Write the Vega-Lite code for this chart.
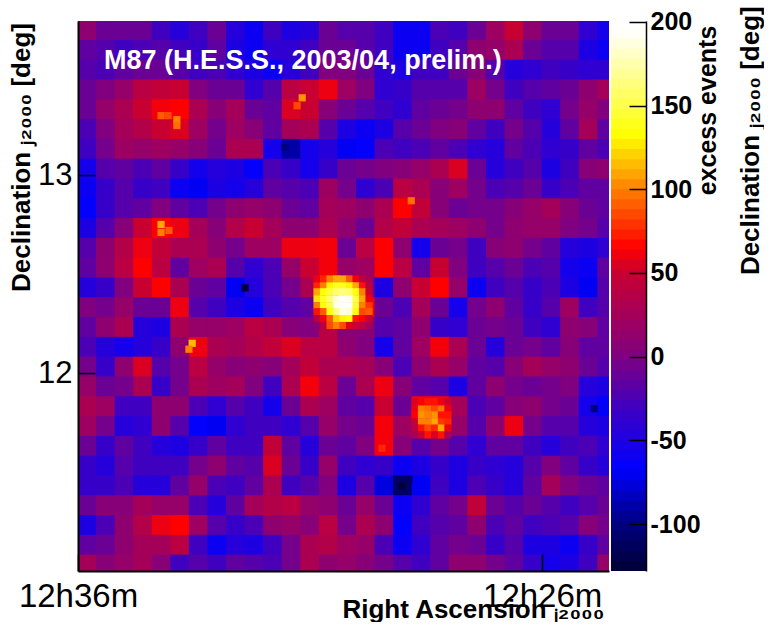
{"$schema":"https://vega.github.io/schema/vega-lite/v6.json","padding":{"left":7,"top":6,"right":0,"bottom":0},"background":"white","spacing":2,"config":{"view":{"stroke":null},"font":"Liberation Sans","concat":{"spacing":2}},"datasets":{"coarse":[
{"r":755.8,"d":13.73,"v":10},{"r":755.4,"d":13.73,"v":-10},{"r":755,"d":13.73,"v":-10},{"r":754.6,"d":13.73,"v":-10},{"r":754.2,"d":13.73,"v":-30},{"r":753.8,"d":13.73,"v":-45},{"r":753.4,"d":13.73,"v":-30},{"r":753,"d":13.73,"v":-10},{"r":752.6,"d":13.73,"v":-45},{"r":752.2,"d":13.73,"v":-60},{"r":751.8,"d":13.73,"v":-30},{"r":751.4,"d":13.73,"v":-50},{"r":751,"d":13.73,"v":-45},{"r":750.6,"d":13.73,"v":-10},{"r":750.2,"d":13.73,"v":-20},{"r":749.8,"d":13.73,"v":-20},{"r":749.4,"d":13.73,"v":-30},{"r":749,"d":13.73,"v":-60},{"r":748.6,"d":13.73,"v":-60},{"r":748.2,"d":13.73,"v":-25},{"r":747.8,"d":13.73,"v":-30},{"r":747.4,"d":13.73,"v":-10},{"r":747,"d":13.73,"v":20},{"r":746.6,"d":13.73,"v":50},{"r":746.2,"d":13.73,"v":10},{"r":745.8,"d":13.73,"v":-10},{"r":745.4,"d":13.73,"v":-10},{"r":745,"d":13.73,"v":-40},{"r":744.6,"d":13.73,"v":-55},
{"r":755.8,"d":13.63,"v":-15},{"r":755.4,"d":13.63,"v":-20},{"r":755,"d":13.63,"v":-30},{"r":754.6,"d":13.63,"v":-25},{"r":754.2,"d":13.63,"v":-20},{"r":753.8,"d":13.63,"v":-30},{"r":753.4,"d":13.63,"v":-35},{"r":753,"d":13.63,"v":-15},{"r":752.6,"d":13.63,"v":-50},{"r":752.2,"d":13.63,"v":-60},{"r":751.8,"d":13.63,"v":-40},{"r":751.4,"d":13.63,"v":-40},{"r":751,"d":13.63,"v":-30},{"r":750.6,"d":13.63,"v":-10},{"r":750.2,"d":13.63,"v":-10},{"r":749.8,"d":13.63,"v":-20},{"r":749.4,"d":13.63,"v":-30},{"r":749,"d":13.63,"v":-60},{"r":748.6,"d":13.63,"v":-60},{"r":748.2,"d":13.63,"v":-30},{"r":747.8,"d":13.63,"v":-20},{"r":747.4,"d":13.63,"v":10},{"r":747,"d":13.63,"v":15},{"r":746.6,"d":13.63,"v":30},{"r":746.2,"d":13.63,"v":-10},{"r":745.8,"d":13.63,"v":-20},{"r":745.4,"d":13.63,"v":-20},{"r":745,"d":13.63,"v":-50},{"r":744.6,"d":13.63,"v":-60},
{"r":755.8,"d":13.53,"v":-20},{"r":755.4,"d":13.53,"v":-25},{"r":755,"d":13.53,"v":-15},{"r":754.6,"d":13.53,"v":-10},{"r":754.2,"d":13.53,"v":-10},{"r":753.8,"d":13.53,"v":-20},{"r":753.4,"d":13.53,"v":-30},{"r":753,"d":13.53,"v":-25},{"r":752.6,"d":13.53,"v":-40},{"r":752.2,"d":13.53,"v":-50},{"r":751.8,"d":13.53,"v":-60},{"r":751.4,"d":13.53,"v":-45},{"r":751,"d":13.53,"v":-30},{"r":750.6,"d":13.53,"v":0},{"r":750.2,"d":13.53,"v":0},{"r":749.8,"d":13.53,"v":-10},{"r":749.4,"d":13.53,"v":-40},{"r":749,"d":13.53,"v":-50},{"r":748.6,"d":13.53,"v":-30},{"r":748.2,"d":13.53,"v":-30},{"r":747.8,"d":13.53,"v":-10},{"r":747.4,"d":13.53,"v":5},{"r":747,"d":13.53,"v":-20},{"r":746.6,"d":13.53,"v":-45},{"r":746.2,"d":13.53,"v":-40},{"r":745.8,"d":13.53,"v":-30},{"r":745.4,"d":13.53,"v":-35},{"r":745,"d":13.53,"v":-40},{"r":744.6,"d":13.53,"v":-40},
{"r":755.8,"d":13.43,"v":-10},{"r":755.4,"d":13.43,"v":0},{"r":755,"d":13.43,"v":15},{"r":754.6,"d":13.43,"v":40},{"r":754.2,"d":13.43,"v":45},{"r":753.8,"d":13.43,"v":50},{"r":753.4,"d":13.43,"v":0},{"r":753,"d":13.43,"v":-10},{"r":752.6,"d":13.43,"v":-10},{"r":752.2,"d":13.43,"v":-40},{"r":751.8,"d":13.43,"v":-20},{"r":751.4,"d":13.43,"v":40},{"r":751,"d":13.43,"v":50},{"r":750.6,"d":13.43,"v":60},{"r":750.2,"d":13.43,"v":20},{"r":749.8,"d":13.43,"v":0},{"r":749.4,"d":13.43,"v":-40},{"r":749,"d":13.43,"v":-35},{"r":748.6,"d":13.43,"v":-20},{"r":748.2,"d":13.43,"v":-20},{"r":747.8,"d":13.43,"v":-20},{"r":747.4,"d":13.43,"v":20},{"r":747,"d":13.43,"v":-5},{"r":746.6,"d":13.43,"v":-30},{"r":746.2,"d":13.43,"v":-20},{"r":745.8,"d":13.43,"v":-15},{"r":745.4,"d":13.43,"v":-10},{"r":745,"d":13.43,"v":10},{"r":744.6,"d":13.43,"v":25},
{"r":755.8,"d":13.33,"v":-10},{"r":755.4,"d":13.33,"v":15},{"r":755,"d":13.33,"v":30},{"r":754.6,"d":13.33,"v":50},{"r":754.2,"d":13.33,"v":62},{"r":753.8,"d":13.33,"v":65},{"r":753.4,"d":13.33,"v":30},{"r":753,"d":13.33,"v":5},{"r":752.6,"d":13.33,"v":25},{"r":752.2,"d":13.33,"v":-10},{"r":751.8,"d":13.33,"v":-15},{"r":751.4,"d":13.33,"v":55},{"r":751,"d":13.33,"v":50},{"r":750.6,"d":13.33,"v":5},{"r":750.2,"d":13.33,"v":-10},{"r":749.8,"d":13.33,"v":-20},{"r":749.4,"d":13.33,"v":-30},{"r":749,"d":13.33,"v":-40},{"r":748.6,"d":13.33,"v":-15},{"r":748.2,"d":13.33,"v":-10},{"r":747.8,"d":13.33,"v":-5},{"r":747.4,"d":13.33,"v":10},{"r":747,"d":13.33,"v":10},{"r":746.6,"d":13.33,"v":-15},{"r":746.2,"d":13.33,"v":-30},{"r":745.8,"d":13.33,"v":-40},{"r":745.4,"d":13.33,"v":-5},{"r":745,"d":13.33,"v":15},{"r":744.6,"d":13.33,"v":0},
{"r":755.8,"d":13.23,"v":-25},{"r":755.4,"d":13.23,"v":0},{"r":755,"d":13.23,"v":25},{"r":754.6,"d":13.23,"v":35},{"r":754.2,"d":13.23,"v":50},{"r":753.8,"d":13.23,"v":55},{"r":753.4,"d":13.23,"v":20},{"r":753,"d":13.23,"v":-5},{"r":752.6,"d":13.23,"v":20},{"r":752.2,"d":13.23,"v":5},{"r":751.8,"d":13.23,"v":-15},{"r":751.4,"d":13.23,"v":25},{"r":751,"d":13.23,"v":30},{"r":750.6,"d":13.23,"v":-20},{"r":750.2,"d":13.23,"v":-50},{"r":749.8,"d":13.23,"v":-60},{"r":749.4,"d":13.23,"v":-50},{"r":749,"d":13.23,"v":-20},{"r":748.6,"d":13.23,"v":-10},{"r":748.2,"d":13.23,"v":0},{"r":747.8,"d":13.23,"v":5},{"r":747.4,"d":13.23,"v":-15},{"r":747,"d":13.23,"v":-30},{"r":746.6,"d":13.23,"v":-5},{"r":746.2,"d":13.23,"v":-20},{"r":745.8,"d":13.23,"v":-45},{"r":745.4,"d":13.23,"v":-15},{"r":745,"d":13.23,"v":25},{"r":744.6,"d":13.23,"v":-15},
{"r":755.8,"d":13.13,"v":-30},{"r":755.4,"d":13.13,"v":-5},{"r":755,"d":13.13,"v":20},{"r":754.6,"d":13.13,"v":15},{"r":754.2,"d":13.13,"v":20},{"r":753.8,"d":13.13,"v":15},{"r":753.4,"d":13.13,"v":5},{"r":753,"d":13.13,"v":-10},{"r":752.6,"d":13.13,"v":30},{"r":752.2,"d":13.13,"v":30},{"r":751.8,"d":13.13,"v":-55},{"r":751.4,"d":13.13,"v":-90},{"r":751,"d":13.13,"v":-55},{"r":750.6,"d":13.13,"v":-45},{"r":750.2,"d":13.13,"v":-70},{"r":749.8,"d":13.13,"v":-65},{"r":749.4,"d":13.13,"v":-25},{"r":749,"d":13.13,"v":-30},{"r":748.6,"d":13.13,"v":-25},{"r":748.2,"d":13.13,"v":-15},{"r":747.8,"d":13.13,"v":-25},{"r":747.4,"d":13.13,"v":-40},{"r":747,"d":13.13,"v":-45},{"r":746.6,"d":13.13,"v":-15},{"r":746.2,"d":13.13,"v":-25},{"r":745.8,"d":13.13,"v":-40},{"r":745.4,"d":13.13,"v":-35},{"r":745,"d":13.13,"v":-15},{"r":744.6,"d":13.13,"v":-25},
{"r":755.8,"d":13.03,"v":-55},{"r":755.4,"d":13.03,"v":-20},{"r":755,"d":13.03,"v":-15},{"r":754.6,"d":13.03,"v":-25},{"r":754.2,"d":13.03,"v":-15},{"r":753.8,"d":13.03,"v":-35},{"r":753.4,"d":13.03,"v":-55},{"r":753,"d":13.03,"v":-45},{"r":752.6,"d":13.03,"v":-50},{"r":752.2,"d":13.03,"v":-65},{"r":751.8,"d":13.03,"v":-25},{"r":751.4,"d":13.03,"v":-35},{"r":751,"d":13.03,"v":-55},{"r":750.6,"d":13.03,"v":-35},{"r":750.2,"d":13.03,"v":-10},{"r":749.8,"d":13.03,"v":-5},{"r":749.4,"d":13.03,"v":0},{"r":749,"d":13.03,"v":5},{"r":748.6,"d":13.03,"v":15},{"r":748.2,"d":13.03,"v":30},{"r":747.8,"d":13.03,"v":55},{"r":747.4,"d":13.03,"v":-10},{"r":747,"d":13.03,"v":-45},{"r":746.6,"d":13.03,"v":-30},{"r":746.2,"d":13.03,"v":-20},{"r":745.8,"d":13.03,"v":-50},{"r":745.4,"d":13.03,"v":-30},{"r":745,"d":13.03,"v":5},{"r":744.6,"d":13.03,"v":10},
{"r":755.8,"d":12.93,"v":-60},{"r":755.4,"d":12.93,"v":-35},{"r":755,"d":12.93,"v":-20},{"r":754.6,"d":12.93,"v":-35},{"r":754.2,"d":12.93,"v":-30},{"r":753.8,"d":12.93,"v":-60},{"r":753.4,"d":12.93,"v":-70},{"r":753,"d":12.93,"v":-50},{"r":752.6,"d":12.93,"v":-55},{"r":752.2,"d":12.93,"v":-45},{"r":751.8,"d":12.93,"v":-15},{"r":751.4,"d":12.93,"v":-20},{"r":751,"d":12.93,"v":-25},{"r":750.6,"d":12.93,"v":20},{"r":750.2,"d":12.93,"v":-5},{"r":749.8,"d":12.93,"v":-40},{"r":749.4,"d":12.93,"v":-25},{"r":749,"d":12.93,"v":40},{"r":748.6,"d":12.93,"v":30},{"r":748.2,"d":12.93,"v":5},{"r":747.8,"d":12.93,"v":20},{"r":747.4,"d":12.93,"v":-5},{"r":747,"d":12.93,"v":-25},{"r":746.6,"d":12.93,"v":-20},{"r":746.2,"d":12.93,"v":-10},{"r":745.8,"d":12.93,"v":-35},{"r":745.4,"d":12.93,"v":-25},{"r":745,"d":12.93,"v":-15},{"r":744.6,"d":12.93,"v":-15},
{"r":755.8,"d":12.83,"v":-65},{"r":755.4,"d":12.83,"v":-35},{"r":755,"d":12.83,"v":-20},{"r":754.6,"d":12.83,"v":-15},{"r":754.2,"d":12.83,"v":0},{"r":753.8,"d":12.83,"v":-15},{"r":753.4,"d":12.83,"v":-25},{"r":753,"d":12.83,"v":-5},{"r":752.6,"d":12.83,"v":10},{"r":752.2,"d":12.83,"v":15},{"r":751.8,"d":12.83,"v":10},{"r":751.4,"d":12.83,"v":-10},{"r":751,"d":12.83,"v":-15},{"r":750.6,"d":12.83,"v":25},{"r":750.2,"d":12.83,"v":20},{"r":749.8,"d":12.83,"v":10},{"r":749.4,"d":12.83,"v":30},{"r":749,"d":12.83,"v":65},{"r":748.6,"d":12.83,"v":45},{"r":748.2,"d":12.83,"v":5},{"r":747.8,"d":12.83,"v":-10},{"r":747.4,"d":12.83,"v":-5},{"r":747,"d":12.83,"v":-5},{"r":746.6,"d":12.83,"v":5},{"r":746.2,"d":12.83,"v":15},{"r":745.8,"d":12.83,"v":25},{"r":745.4,"d":12.83,"v":5},{"r":745,"d":12.83,"v":-10},{"r":744.6,"d":12.83,"v":-15},
{"r":755.8,"d":12.73,"v":-50},{"r":755.4,"d":12.73,"v":-20},{"r":755,"d":12.73,"v":5},{"r":754.6,"d":12.73,"v":50},{"r":754.2,"d":12.73,"v":65},{"r":753.8,"d":12.73,"v":60},{"r":753.4,"d":12.73,"v":25},{"r":753,"d":12.73,"v":5},{"r":752.6,"d":12.73,"v":35},{"r":752.2,"d":12.73,"v":50},{"r":751.8,"d":12.73,"v":25},{"r":751.4,"d":12.73,"v":10},{"r":751,"d":12.73,"v":10},{"r":750.6,"d":12.73,"v":30},{"r":750.2,"d":12.73,"v":10},{"r":749.8,"d":12.73,"v":-10},{"r":749.4,"d":12.73,"v":35},{"r":749,"d":12.73,"v":45},{"r":748.6,"d":12.73,"v":30},{"r":748.2,"d":12.73,"v":25},{"r":747.8,"d":12.73,"v":20},{"r":747.4,"d":12.73,"v":10},{"r":747,"d":12.73,"v":-5},{"r":746.6,"d":12.73,"v":10},{"r":746.2,"d":12.73,"v":15},{"r":745.8,"d":12.73,"v":15},{"r":745.4,"d":12.73,"v":0},{"r":745,"d":12.73,"v":-5},{"r":744.6,"d":12.73,"v":-20},
{"r":755.8,"d":12.63,"v":-20},{"r":755.4,"d":12.63,"v":10},{"r":755,"d":12.63,"v":35},{"r":754.6,"d":12.63,"v":60},{"r":754.2,"d":12.63,"v":45},{"r":753.8,"d":12.63,"v":30},{"r":753.4,"d":12.63,"v":30},{"r":753,"d":12.63,"v":10},{"r":752.6,"d":12.63,"v":-5},{"r":752.2,"d":12.63,"v":20},{"r":751.8,"d":12.63,"v":20},{"r":751.4,"d":12.63,"v":60},{"r":751,"d":12.63,"v":60},{"r":750.6,"d":12.63,"v":62},{"r":750.2,"d":12.63,"v":-10},{"r":749.8,"d":12.63,"v":40},{"r":749.4,"d":12.63,"v":65},{"r":749,"d":12.63,"v":10},{"r":748.6,"d":12.63,"v":-55},{"r":748.2,"d":12.63,"v":-10},{"r":747.8,"d":12.63,"v":-5},{"r":747.4,"d":12.63,"v":-30},{"r":747,"d":12.63,"v":5},{"r":746.6,"d":12.63,"v":10},{"r":746.2,"d":12.63,"v":-5},{"r":745.8,"d":12.63,"v":-15},{"r":745.4,"d":12.63,"v":-45},{"r":745,"d":12.63,"v":-50},{"r":744.6,"d":12.63,"v":-40},
{"r":755.8,"d":12.53,"v":-15},{"r":755.4,"d":12.53,"v":10},{"r":755,"d":12.53,"v":40},{"r":754.6,"d":12.53,"v":65},{"r":754.2,"d":12.53,"v":40},{"r":753.8,"d":12.53,"v":-15},{"r":753.4,"d":12.53,"v":20},{"r":753,"d":12.53,"v":30},{"r":752.6,"d":12.53,"v":-20},{"r":752.2,"d":12.53,"v":-40},{"r":751.8,"d":12.53,"v":-25},{"r":751.4,"d":12.53,"v":15},{"r":751,"d":12.53,"v":50},{"r":750.6,"d":12.53,"v":62},{"r":750.2,"d":12.53,"v":15},{"r":749.8,"d":12.53,"v":20},{"r":749.4,"d":12.53,"v":65},{"r":749,"d":12.53,"v":40},{"r":748.6,"d":12.53,"v":-15},{"r":748.2,"d":12.53,"v":50},{"r":747.8,"d":12.53,"v":0},{"r":747.4,"d":12.53,"v":-30},{"r":747,"d":12.53,"v":-20},{"r":746.6,"d":12.53,"v":-10},{"r":746.2,"d":12.53,"v":-25},{"r":745.8,"d":12.53,"v":-20},{"r":745.4,"d":12.53,"v":-55},{"r":745,"d":12.53,"v":-60},{"r":744.6,"d":12.53,"v":-15},
{"r":755.8,"d":12.43,"v":-45},{"r":755.4,"d":12.43,"v":-35},{"r":755,"d":12.43,"v":0},{"r":754.6,"d":12.43,"v":50},{"r":754.2,"d":12.43,"v":65},{"r":753.8,"d":12.43,"v":30},{"r":753.4,"d":12.43,"v":-10},{"r":753,"d":12.43,"v":-15},{"r":752.6,"d":12.43,"v":-70},{"r":752.2,"d":12.43,"v":-45},{"r":751.8,"d":12.43,"v":-25},{"r":751.4,"d":12.43,"v":-5},{"r":751,"d":12.43,"v":30},{"r":750.6,"d":12.43,"v":60},{"r":750.2,"d":12.43,"v":90},{"r":749.8,"d":12.43,"v":-5},{"r":749.4,"d":12.43,"v":-50},{"r":749,"d":12.43,"v":10},{"r":748.6,"d":12.43,"v":50},{"r":748.2,"d":12.43,"v":65},{"r":747.8,"d":12.43,"v":15},{"r":747.4,"d":12.43,"v":-60},{"r":747,"d":12.43,"v":-30},{"r":746.6,"d":12.43,"v":-20},{"r":746.2,"d":12.43,"v":-35},{"r":745.8,"d":12.43,"v":-25},{"r":745.4,"d":12.43,"v":-50},{"r":745,"d":12.43,"v":-70},{"r":744.6,"d":12.43,"v":-20},
{"r":755.8,"d":12.33,"v":0},{"r":755.4,"d":12.33,"v":-5},{"r":755,"d":12.33,"v":15},{"r":754.6,"d":12.33,"v":-10},{"r":754.2,"d":12.33,"v":-10},{"r":753.8,"d":12.33,"v":60},{"r":753.4,"d":12.33,"v":-20},{"r":753,"d":12.33,"v":-30},{"r":752.6,"d":12.33,"v":-50},{"r":752.2,"d":12.33,"v":-60},{"r":751.8,"d":12.33,"v":-30},{"r":751.4,"d":12.33,"v":-20},{"r":751,"d":12.33,"v":-15},{"r":750.6,"d":12.33,"v":60},{"r":750.2,"d":12.33,"v":90},{"r":749.8,"d":12.33,"v":60},{"r":749.4,"d":12.33,"v":-10},{"r":749,"d":12.33,"v":-25},{"r":748.6,"d":12.33,"v":25},{"r":748.2,"d":12.33,"v":-10},{"r":747.8,"d":12.33,"v":-55},{"r":747.4,"d":12.33,"v":-5},{"r":747,"d":12.33,"v":10},{"r":746.6,"d":12.33,"v":-15},{"r":746.2,"d":12.33,"v":-35},{"r":745.8,"d":12.33,"v":-20},{"r":745.4,"d":12.33,"v":20},{"r":745,"d":12.33,"v":-30},{"r":744.6,"d":12.33,"v":-20},
{"r":755.8,"d":12.23,"v":-15},{"r":755.4,"d":12.23,"v":10},{"r":755,"d":12.23,"v":30},{"r":754.6,"d":12.23,"v":-45},{"r":754.2,"d":12.23,"v":-50},{"r":753.8,"d":12.23,"v":30},{"r":753.4,"d":12.23,"v":15},{"r":753,"d":12.23,"v":15},{"r":752.6,"d":12.23,"v":20},{"r":752.2,"d":12.23,"v":40},{"r":751.8,"d":12.23,"v":30},{"r":751.4,"d":12.23,"v":5},{"r":751,"d":12.23,"v":0},{"r":750.6,"d":12.23,"v":40},{"r":750.2,"d":12.23,"v":5},{"r":749.8,"d":12.23,"v":5},{"r":749.4,"d":12.23,"v":-20},{"r":749,"d":12.23,"v":-15},{"r":748.6,"d":12.23,"v":10},{"r":748.2,"d":12.23,"v":-35},{"r":747.8,"d":12.23,"v":-40},{"r":747.4,"d":12.23,"v":-10},{"r":747,"d":12.23,"v":-5},{"r":746.6,"d":12.23,"v":-10},{"r":746.2,"d":12.23,"v":-30},{"r":745.8,"d":12.23,"v":-40},{"r":745.4,"d":12.23,"v":10},{"r":745,"d":12.23,"v":5},{"r":744.6,"d":12.23,"v":-15},
{"r":755.8,"d":12.13,"v":-25},{"r":755.4,"d":12.13,"v":-45},{"r":755,"d":12.13,"v":-55},{"r":754.6,"d":12.13,"v":-45},{"r":754.2,"d":12.13,"v":-35},{"r":753.8,"d":12.13,"v":10},{"r":753.4,"d":12.13,"v":60},{"r":753,"d":12.13,"v":30},{"r":752.6,"d":12.13,"v":25},{"r":752.2,"d":12.13,"v":35},{"r":751.8,"d":12.13,"v":45},{"r":751.4,"d":12.13,"v":55},{"r":751,"d":12.13,"v":40},{"r":750.6,"d":12.13,"v":40},{"r":750.2,"d":12.13,"v":10},{"r":749.8,"d":12.13,"v":0},{"r":749.4,"d":12.13,"v":-55},{"r":749,"d":12.13,"v":-15},{"r":748.6,"d":12.13,"v":20},{"r":748.2,"d":12.13,"v":62},{"r":747.8,"d":12.13,"v":30},{"r":747.4,"d":12.13,"v":-10},{"r":747,"d":12.13,"v":-45},{"r":746.6,"d":12.13,"v":-10},{"r":746.2,"d":12.13,"v":-5},{"r":745.8,"d":12.13,"v":-15},{"r":745.4,"d":12.13,"v":5},{"r":745,"d":12.13,"v":-15},{"r":744.6,"d":12.13,"v":-15},
{"r":755.8,"d":12.03,"v":-5},{"r":755.4,"d":12.03,"v":-35},{"r":755,"d":12.03,"v":10},{"r":754.6,"d":12.03,"v":55},{"r":754.2,"d":12.03,"v":-20},{"r":753.8,"d":12.03,"v":-5},{"r":753.4,"d":12.03,"v":40},{"r":753,"d":12.03,"v":15},{"r":752.6,"d":12.03,"v":5},{"r":752.2,"d":12.03,"v":10},{"r":751.8,"d":12.03,"v":5},{"r":751.4,"d":12.03,"v":25},{"r":751,"d":12.03,"v":45},{"r":750.6,"d":12.03,"v":30},{"r":750.2,"d":12.03,"v":30},{"r":749.8,"d":12.03,"v":25},{"r":749.4,"d":12.03,"v":5},{"r":749,"d":12.03,"v":-25},{"r":748.6,"d":12.03,"v":10},{"r":748.2,"d":12.03,"v":30},{"r":747.8,"d":12.03,"v":15},{"r":747.4,"d":12.03,"v":-15},{"r":747,"d":12.03,"v":-20},{"r":746.6,"d":12.03,"v":5},{"r":746.2,"d":12.03,"v":25},{"r":745.8,"d":12.03,"v":15},{"r":745.4,"d":12.03,"v":10},{"r":745,"d":12.03,"v":-10},{"r":744.6,"d":12.03,"v":-20},
{"r":755.8,"d":11.93,"v":15},{"r":755.4,"d":11.93,"v":-10},{"r":755,"d":11.93,"v":-5},{"r":754.6,"d":11.93,"v":30},{"r":754.2,"d":11.93,"v":-35},{"r":753.8,"d":11.93,"v":-5},{"r":753.4,"d":11.93,"v":30},{"r":753,"d":11.93,"v":20},{"r":752.6,"d":11.93,"v":25},{"r":752.2,"d":11.93,"v":0},{"r":751.8,"d":11.93,"v":-30},{"r":751.4,"d":11.93,"v":30},{"r":751,"d":11.93,"v":62},{"r":750.6,"d":11.93,"v":40},{"r":750.2,"d":11.93,"v":-10},{"r":749.8,"d":11.93,"v":30},{"r":749.4,"d":11.93,"v":60},{"r":749,"d":11.93,"v":5},{"r":748.6,"d":11.93,"v":-15},{"r":748.2,"d":11.93,"v":-20},{"r":747.8,"d":11.93,"v":-50},{"r":747.4,"d":11.93,"v":-15},{"r":747,"d":11.93,"v":10},{"r":746.6,"d":11.93,"v":-5},{"r":746.2,"d":11.93,"v":-10},{"r":745.8,"d":11.93,"v":-5},{"r":745.4,"d":11.93,"v":0},{"r":745,"d":11.93,"v":-45},{"r":744.6,"d":11.93,"v":-50},
{"r":755.8,"d":11.83,"v":30},{"r":755.4,"d":11.83,"v":20},{"r":755,"d":11.83,"v":-30},{"r":754.6,"d":11.83,"v":-30},{"r":754.2,"d":11.83,"v":10},{"r":753.8,"d":11.83,"v":10},{"r":753.4,"d":11.83,"v":-25},{"r":753,"d":11.83,"v":-40},{"r":752.6,"d":11.83,"v":-20},{"r":752.2,"d":11.83,"v":-30},{"r":751.8,"d":11.83,"v":-55},{"r":751.4,"d":11.83,"v":-10},{"r":751,"d":11.83,"v":30},{"r":750.6,"d":11.83,"v":20},{"r":750.2,"d":11.83,"v":-15},{"r":749.8,"d":11.83,"v":-20},{"r":749.4,"d":11.83,"v":50},{"r":749,"d":11.83,"v":-10},{"r":748.6,"d":11.83,"v":65},{"r":748.2,"d":11.83,"v":65},{"r":747.8,"d":11.83,"v":25},{"r":747.4,"d":11.83,"v":-25},{"r":747,"d":11.83,"v":-15},{"r":746.6,"d":11.83,"v":5},{"r":746.2,"d":11.83,"v":10},{"r":745.8,"d":11.83,"v":-5},{"r":745.4,"d":11.83,"v":-10},{"r":745,"d":11.83,"v":-55},{"r":744.6,"d":11.83,"v":-65},
{"r":755.8,"d":11.73,"v":20},{"r":755.4,"d":11.73,"v":-5},{"r":755,"d":11.73,"v":-45},{"r":754.6,"d":11.73,"v":-40},{"r":754.2,"d":11.73,"v":10},{"r":753.8,"d":11.73,"v":-20},{"r":753.4,"d":11.73,"v":-65},{"r":753,"d":11.73,"v":-70},{"r":752.6,"d":11.73,"v":-40},{"r":752.2,"d":11.73,"v":-30},{"r":751.8,"d":11.73,"v":-30},{"r":751.4,"d":11.73,"v":-40},{"r":751,"d":11.73,"v":-20},{"r":750.6,"d":11.73,"v":15},{"r":750.2,"d":11.73,"v":-5},{"r":749.8,"d":11.73,"v":-10},{"r":749.4,"d":11.73,"v":62},{"r":749,"d":11.73,"v":20},{"r":748.6,"d":11.73,"v":30},{"r":748.2,"d":11.73,"v":65},{"r":747.8,"d":11.73,"v":15},{"r":747.4,"d":11.73,"v":-20},{"r":747,"d":11.73,"v":10},{"r":746.6,"d":11.73,"v":60},{"r":746.2,"d":11.73,"v":-5},{"r":745.8,"d":11.73,"v":-20},{"r":745.4,"d":11.73,"v":-20},{"r":745,"d":11.73,"v":-45},{"r":744.6,"d":11.73,"v":-50},
{"r":755.8,"d":11.63,"v":-10},{"r":755.4,"d":11.63,"v":-35},{"r":755,"d":11.63,"v":-15},{"r":754.6,"d":11.63,"v":-30},{"r":754.2,"d":11.63,"v":-45},{"r":753.8,"d":11.63,"v":-50},{"r":753.4,"d":11.63,"v":-35},{"r":753,"d":11.63,"v":-15},{"r":752.6,"d":11.63,"v":-30},{"r":752.2,"d":11.63,"v":-30},{"r":751.8,"d":11.63,"v":45},{"r":751.4,"d":11.63,"v":-15},{"r":751,"d":11.63,"v":-45},{"r":750.6,"d":11.63,"v":-10},{"r":750.2,"d":11.63,"v":-15},{"r":749.8,"d":11.63,"v":0},{"r":749.4,"d":11.63,"v":62},{"r":749,"d":11.63,"v":5},{"r":748.6,"d":11.63,"v":-20},{"r":748.2,"d":11.63,"v":-5},{"r":747.8,"d":11.63,"v":-20},{"r":747.4,"d":11.63,"v":-40},{"r":747,"d":11.63,"v":-15},{"r":746.6,"d":11.63,"v":-15},{"r":746.2,"d":11.63,"v":-30},{"r":745.8,"d":11.63,"v":-45},{"r":745.4,"d":11.63,"v":-30},{"r":745,"d":11.63,"v":-25},{"r":744.6,"d":11.63,"v":-40},
{"r":755.8,"d":11.53,"v":-35},{"r":755.4,"d":11.53,"v":-45},{"r":755,"d":11.53,"v":-20},{"r":754.6,"d":11.53,"v":-30},{"r":754.2,"d":11.53,"v":-30},{"r":753.8,"d":11.53,"v":-30},{"r":753.4,"d":11.53,"v":-5},{"r":753,"d":11.53,"v":10},{"r":752.6,"d":11.53,"v":-15},{"r":752.2,"d":11.53,"v":-20},{"r":751.8,"d":11.53,"v":55},{"r":751.4,"d":11.53,"v":-10},{"r":751,"d":11.53,"v":-35},{"r":750.6,"d":11.53,"v":15},{"r":750.2,"d":11.53,"v":-30},{"r":749.8,"d":11.53,"v":-40},{"r":749.4,"d":11.53,"v":-35},{"r":749,"d":11.53,"v":-60},{"r":748.6,"d":11.53,"v":-50},{"r":748.2,"d":11.53,"v":-35},{"r":747.8,"d":11.53,"v":-50},{"r":747.4,"d":11.53,"v":-35},{"r":747,"d":11.53,"v":-40},{"r":746.6,"d":11.53,"v":-45},{"r":746.2,"d":11.53,"v":-20},{"r":745.8,"d":11.53,"v":0},{"r":745.4,"d":11.53,"v":-15},{"r":745,"d":11.53,"v":-35},{"r":744.6,"d":11.53,"v":-45},
{"r":755.8,"d":11.43,"v":-35},{"r":755.4,"d":11.43,"v":-35},{"r":755,"d":11.43,"v":-25},{"r":754.6,"d":11.43,"v":-45},{"r":754.2,"d":11.43,"v":-45},{"r":753.8,"d":11.43,"v":-15},{"r":753.4,"d":11.43,"v":15},{"r":753,"d":11.43,"v":-25},{"r":752.6,"d":11.43,"v":-30},{"r":752.2,"d":11.43,"v":-15},{"r":751.8,"d":11.43,"v":30},{"r":751.4,"d":11.43,"v":-30},{"r":751,"d":11.43,"v":-20},{"r":750.6,"d":11.43,"v":0},{"r":750.2,"d":11.43,"v":-50},{"r":749.8,"d":11.43,"v":-20},{"r":749.4,"d":11.43,"v":-75},{"r":749,"d":11.43,"v":-110},{"r":748.6,"d":11.43,"v":-70},{"r":748.2,"d":11.43,"v":-30},{"r":747.8,"d":11.43,"v":-50},{"r":747.4,"d":11.43,"v":-25},{"r":747,"d":11.43,"v":-35},{"r":746.6,"d":11.43,"v":-45},{"r":746.2,"d":11.43,"v":-15},{"r":745.8,"d":11.43,"v":25},{"r":745.4,"d":11.43,"v":0},{"r":745,"d":11.43,"v":-10},{"r":744.6,"d":11.43,"v":-15},
{"r":755.8,"d":11.33,"v":-10},{"r":755.4,"d":11.33,"v":5},{"r":755,"d":11.33,"v":5},{"r":754.6,"d":11.33,"v":25},{"r":754.2,"d":11.33,"v":15},{"r":753.8,"d":11.33,"v":15},{"r":753.4,"d":11.33,"v":-25},{"r":753,"d":11.33,"v":-45},{"r":752.6,"d":11.33,"v":-15},{"r":752.2,"d":11.33,"v":25},{"r":751.8,"d":11.33,"v":35},{"r":751.4,"d":11.33,"v":40},{"r":751,"d":11.33,"v":15},{"r":750.6,"d":11.33,"v":10},{"r":750.2,"d":11.33,"v":-10},{"r":749.8,"d":11.33,"v":15},{"r":749.4,"d":11.33,"v":-10},{"r":749,"d":11.33,"v":-60},{"r":748.6,"d":11.33,"v":-40},{"r":748.2,"d":11.33,"v":-15},{"r":747.8,"d":11.33,"v":-5},{"r":747.4,"d":11.33,"v":45},{"r":747,"d":11.33,"v":-10},{"r":746.6,"d":11.33,"v":-20},{"r":746.2,"d":11.33,"v":-10},{"r":745.8,"d":11.33,"v":-20},{"r":745.4,"d":11.33,"v":-30},{"r":745,"d":11.33,"v":-20},{"r":744.6,"d":11.33,"v":-10},
{"r":755.8,"d":11.23,"v":-50},{"r":755.4,"d":11.23,"v":-25},{"r":755,"d":11.23,"v":10},{"r":754.6,"d":11.23,"v":35},{"r":754.2,"d":11.23,"v":60},{"r":753.8,"d":11.23,"v":65},{"r":753.4,"d":11.23,"v":20},{"r":753,"d":11.23,"v":-20},{"r":752.6,"d":11.23,"v":-35},{"r":752.2,"d":11.23,"v":-25},{"r":751.8,"d":11.23,"v":10},{"r":751.4,"d":11.23,"v":15},{"r":751,"d":11.23,"v":5},{"r":750.6,"d":11.23,"v":40},{"r":750.2,"d":11.23,"v":-5},{"r":749.8,"d":11.23,"v":30},{"r":749.4,"d":11.23,"v":10},{"r":749,"d":11.23,"v":-65},{"r":748.6,"d":11.23,"v":-30},{"r":748.2,"d":11.23,"v":-20},{"r":747.8,"d":11.23,"v":-15},{"r":747.4,"d":11.23,"v":10},{"r":747,"d":11.23,"v":-25},{"r":746.6,"d":11.23,"v":-15},{"r":746.2,"d":11.23,"v":-30},{"r":745.8,"d":11.23,"v":-25},{"r":745.4,"d":11.23,"v":-20},{"r":745,"d":11.23,"v":5},{"r":744.6,"d":11.23,"v":-5},
{"r":755.8,"d":11.13,"v":-15},{"r":755.4,"d":11.13,"v":-10},{"r":755,"d":11.13,"v":10},{"r":754.6,"d":11.13,"v":25},{"r":754.2,"d":11.13,"v":25},{"r":753.8,"d":11.13,"v":40},{"r":753.4,"d":11.13,"v":-30},{"r":753,"d":11.13,"v":-60},{"r":752.6,"d":11.13,"v":-45},{"r":752.2,"d":11.13,"v":-50},{"r":751.8,"d":11.13,"v":-30},{"r":751.4,"d":11.13,"v":-5},{"r":751,"d":11.13,"v":30},{"r":750.6,"d":11.13,"v":35},{"r":750.2,"d":11.13,"v":20},{"r":749.8,"d":11.13,"v":15},{"r":749.4,"d":11.13,"v":-25},{"r":749,"d":11.13,"v":-60},{"r":748.6,"d":11.13,"v":-40},{"r":748.2,"d":11.13,"v":-15},{"r":747.8,"d":11.13,"v":-5},{"r":747.4,"d":11.13,"v":-10},{"r":747,"d":11.13,"v":-35},{"r":746.6,"d":11.13,"v":-20},{"r":746.2,"d":11.13,"v":-50},{"r":745.8,"d":11.13,"v":-50},{"r":745.4,"d":11.13,"v":-60},{"r":745,"d":11.13,"v":-35},{"r":744.6,"d":11.13,"v":-15},
{"r":755.8,"d":11.03,"v":25},{"r":755.4,"d":11.03,"v":5},{"r":755,"d":11.03,"v":15},{"r":754.6,"d":11.03,"v":25},{"r":754.2,"d":11.03,"v":5},{"r":753.8,"d":11.03,"v":-30},{"r":753.4,"d":11.03,"v":-20},{"r":753,"d":11.03,"v":-30},{"r":752.6,"d":11.03,"v":-15},{"r":752.2,"d":11.03,"v":-20},{"r":751.8,"d":11.03,"v":-25},{"r":751.4,"d":11.03,"v":-5},{"r":751,"d":11.03,"v":30},{"r":750.6,"d":11.03,"v":10},{"r":750.2,"d":11.03,"v":15},{"r":749.8,"d":11.03,"v":5},{"r":749.4,"d":11.03,"v":-5},{"r":749,"d":11.03,"v":-20},{"r":748.6,"d":11.03,"v":-30},{"r":748.2,"d":11.03,"v":-15},{"r":747.8,"d":11.03,"v":10},{"r":747.4,"d":11.03,"v":10},{"r":747,"d":11.03,"v":-5},{"r":746.6,"d":11.03,"v":-15},{"r":746.2,"d":11.03,"v":-35},{"r":745.8,"d":11.03,"v":-55},{"r":745.4,"d":11.03,"v":-50},{"r":745,"d":11.03,"v":-30},{"r":744.6,"d":11.03,"v":15}
],"fine":[
{"r":750.85,"d":12.475,"v":60},{"r":750.71,"d":12.475,"v":75},{"r":750.57,"d":12.475,"v":100},{"r":750.43,"d":12.475,"v":110},{"r":750.29,"d":12.475,"v":110},{"r":750.15,"d":12.475,"v":90},{"r":750.01,"d":12.475,"v":60},{"r":749.87,"d":12.475,"v":40},{"r":749.73,"d":12.475,"v":30},
{"r":750.85,"d":12.44,"v":75},{"r":750.71,"d":12.44,"v":100},{"r":750.57,"d":12.44,"v":130},{"r":750.43,"d":12.44,"v":140},{"r":750.29,"d":12.44,"v":140},{"r":750.15,"d":12.44,"v":130},{"r":750.01,"d":12.44,"v":110},{"r":749.87,"d":12.44,"v":70},{"r":749.73,"d":12.44,"v":40},
{"r":750.85,"d":12.41,"v":110},{"r":750.71,"d":12.41,"v":135},{"r":750.57,"d":12.41,"v":145},{"r":750.43,"d":12.41,"v":160},{"r":750.29,"d":12.41,"v":165},{"r":750.15,"d":12.41,"v":160},{"r":750.01,"d":12.41,"v":135},{"r":749.87,"d":12.41,"v":100},{"r":749.73,"d":12.41,"v":50},
{"r":750.85,"d":12.375,"v":125},{"r":750.71,"d":12.375,"v":140},{"r":750.57,"d":12.375,"v":160},{"r":750.43,"d":12.375,"v":185},{"r":750.29,"d":12.375,"v":195},{"r":750.15,"d":12.375,"v":190},{"r":750.01,"d":12.375,"v":150},{"r":749.87,"d":12.375,"v":110},{"r":749.73,"d":12.375,"v":60},
{"r":750.85,"d":12.34,"v":100},{"r":750.71,"d":12.34,"v":135},{"r":750.57,"d":12.34,"v":150},{"r":750.43,"d":12.34,"v":190},{"r":750.29,"d":12.34,"v":200},{"r":750.15,"d":12.34,"v":195},{"r":750.01,"d":12.34,"v":145},{"r":749.87,"d":12.34,"v":100},{"r":749.73,"d":12.34,"v":80},
{"r":750.85,"d":12.31,"v":70},{"r":750.71,"d":12.31,"v":90},{"r":750.57,"d":12.31,"v":135},{"r":750.43,"d":12.31,"v":165},{"r":750.29,"d":12.31,"v":190},{"r":750.15,"d":12.31,"v":185},{"r":750.01,"d":12.31,"v":135},{"r":749.87,"d":12.31,"v":85},{"r":749.73,"d":12.31,"v":90},
{"r":750.85,"d":12.275,"v":40},{"r":750.71,"d":12.275,"v":60},{"r":750.57,"d":12.275,"v":90},{"r":750.43,"d":12.275,"v":120},{"r":750.29,"d":12.275,"v":130},{"r":750.15,"d":12.275,"v":135},{"r":750.01,"d":12.275,"v":70},{"r":749.87,"d":12.275,"v":65},{"r":749.73,"d":12.275,"v":50},
{"r":750.85,"d":12.24,"v":10},{"r":750.71,"d":12.24,"v":40},{"r":750.57,"d":12.24,"v":85},{"r":750.43,"d":12.24,"v":100},{"r":750.29,"d":12.24,"v":85},{"r":750.15,"d":12.24,"v":55},{"r":750.01,"d":12.24,"v":50},{"r":749.87,"d":12.24,"v":40},{"r":749.73,"d":12.24,"v":25},
{"r":748.74,"d":11.854,"v":55},{"r":748.6,"d":11.854,"v":65},{"r":748.46,"d":11.854,"v":70},{"r":748.31,"d":11.854,"v":70},{"r":748.17,"d":11.854,"v":60},{"r":748.03,"d":11.854,"v":50},
{"r":748.74,"d":11.818,"v":60},{"r":748.6,"d":11.818,"v":100},{"r":748.46,"d":11.818,"v":95},{"r":748.31,"d":11.818,"v":85},{"r":748.17,"d":11.818,"v":95},{"r":748.03,"d":11.818,"v":60},
{"r":748.74,"d":11.788,"v":65},{"r":748.6,"d":11.788,"v":105},{"r":748.46,"d":11.788,"v":100},{"r":748.31,"d":11.788,"v":105},{"r":748.17,"d":11.788,"v":70},{"r":748.03,"d":11.788,"v":70},
{"r":748.74,"d":11.753,"v":50},{"r":748.6,"d":11.753,"v":100},{"r":748.46,"d":11.753,"v":100},{"r":748.31,"d":11.753,"v":110},{"r":748.17,"d":11.753,"v":80},{"r":748.03,"d":11.753,"v":75},
{"r":748.74,"d":11.722,"v":40},{"r":748.6,"d":11.722,"v":70},{"r":748.46,"d":11.722,"v":85},{"r":748.31,"d":11.722,"v":75},{"r":748.17,"d":11.722,"v":110},{"r":748.03,"d":11.722,"v":60},
{"r":748.74,"d":11.687,"v":30},{"r":748.6,"d":11.687,"v":50},{"r":748.46,"d":11.687,"v":70},{"r":748.31,"d":11.687,"v":55},{"r":748.17,"d":11.687,"v":70},{"r":748.03,"d":11.687,"v":30},
{"r":754.21,"d":13.3,"v":90},{"r":754.06,"d":13.3,"v":85},{"r":753.87,"d":13.28,"v":100},{"r":753.87,"d":13.25,"v":95},{"r":751.17,"d":13.39,"v":105},{"r":751.28,"d":13.35,"v":85},{"r":754.21,"d":12.75,"v":110},{"r":754.21,"d":12.71,"v":100},{"r":754.04,"d":12.72,"v":90},{"r":753.54,"d":12.15,"v":115},{"r":753.61,"d":12.12,"v":100},{"r":748.82,"d":12.87,"v":95},{"r":749.02,"d":11.43,"v":-125},{"r":748.87,"d":11.46,"v":-110},{"r":752.4,"d":12.43,"v":-125},{"r":751.54,"d":13.14,"v":-100},{"r":744.88,"d":11.82,"v":-100},{"r":749.45,"d":11.62,"v":75}
],"note":[{"r":755.44,"d":13.576,"t":"M87 (H.E.S.S., 2003/04, prelim.)"}],"bar":[
{"a":-128,"b":-121,"c":-125},{"a":-122,"b":-115,"c":-119},{"a":-116,"b":-109,"c":-113},{"a":-110,"b":-103,"c":-107},{"a":-104,"b":-97,"c":-101},{"a":-98,"b":-91,"c":-95},{"a":-92,"b":-85,"c":-89},{"a":-86,"b":-79,"c":-83},{"a":-80,"b":-73,"c":-77},{"a":-74,"b":-67,"c":-71},{"a":-68,"b":-61,"c":-65},{"a":-62,"b":-55,"c":-59},{"a":-56,"b":-49,"c":-53},{"a":-50,"b":-43,"c":-47},{"a":-44,"b":-37,"c":-41},{"a":-38,"b":-31,"c":-35},{"a":-32,"b":-25,"c":-29},{"a":-26,"b":-19,"c":-23},{"a":-20,"b":-13,"c":-17},{"a":-14,"b":-7,"c":-11},{"a":-8,"b":-1,"c":-5},{"a":-2,"b":5,"c":1},{"a":4,"b":11,"c":7},{"a":10,"b":17,"c":13},{"a":16,"b":23,"c":19},{"a":22,"b":29,"c":25},{"a":28,"b":35,"c":31},{"a":34,"b":41,"c":37},{"a":40,"b":47,"c":43},{"a":46,"b":53,"c":49},{"a":52,"b":59,"c":55},{"a":58,"b":65,"c":61},{"a":64,"b":71,"c":67},{"a":70,"b":77,"c":73},{"a":76,"b":83,"c":79},{"a":82,"b":89,"c":85},{"a":88,"b":95,"c":91},{"a":94,"b":101,"c":97},{"a":100,"b":107,"c":103},{"a":106,"b":113,"c":109},{"a":112,"b":119,"c":115},{"a":118,"b":125,"c":121},{"a":124,"b":131,"c":127},{"a":130,"b":137,"c":133},{"a":136,"b":143,"c":139},{"a":142,"b":149,"c":145},{"a":148,"b":155,"c":151},{"a":154,"b":161,"c":157},{"a":160,"b":167,"c":163},{"a":166,"b":173,"c":169},{"a":172,"b":179,"c":175},{"a":178,"b":185,"c":181},{"a":184,"b":191,"c":187},{"a":190,"b":197,"c":193},{"a":196,"b":203,"c":199}
],"side":[{"x":4,"y":129,"t":"Declination ⱼ₂₀₀₀ [deg]"}]},"resolve":{"scale":{"color":"shared"}},"hconcat":[{"width":531,"height":550,"layer":[{"data":{"name":"coarse"},"mark":{"type":"rect","width":19.6,"height":20.8,"clip":true},"encoding":{"x":{"field":"r","type":"quantitative","scale":{"domain":[756,744.56],"nice":false,"zero":false},"axis":{"zindex":1,"values":[756,746],"labelExpr":"datum.value==756?'12h36m':'12h26m'","labelFlush":false,"grid":false,"domainColor":"black","domainWidth":2,"tickColor":"black","tickWidth":1.5,"tickSize":-17,"labelPadding":26,"labelFontSize":33,"labelColor":"black","title":"Right Ascension ⱼ₂₀₀₀","titleFontSize":26,"titleFontWeight":"bold","titleColor":"black","titleX":395,"titleY":25,"titleAnchor":"middle"}},"y":{"field":"d","type":"quantitative","scale":{"domain":[11,13.778],"nice":false,"zero":false},"axis":{"zindex":1,"values":[12,13],"format":"d","grid":false,"domainColor":"black","domainWidth":2,"tickColor":"black","tickWidth":1.5,"tickSize":-17,"labelPadding":23,"labelFontSize":31,"labelColor":"black","title":"Declination ⱼ₂₀₀₀ [deg]","titleFontSize":26,"titleFontWeight":"bold","titleColor":"black","titleX":-44,"titleY":136,"titleAnchor":"middle"}},"color":{"field":"v","type":"quantitative","legend":null,"scale":{"domain":[-128,-100,-67,-30,0,50,65,100,132,195],"range":["#000033","#000080","#0000ff","#4000c0","#800080","#c80032","#ff0000","#ff8000","#ffff00","#ffffff"],"clamp":true,"nice":false,"zero":false,"interpolate":"rgb"}}}},{"data":{"name":"fine"},"mark":{"type":"rect","width":7.2,"height":7.2,"clip":true},"encoding":{"x":{"field":"r","type":"quantitative"},"y":{"field":"d","type":"quantitative"},"color":{"field":"v","type":"quantitative"}}},{"data":{"name":"note"},"mark":{"type":"text","align":"left","baseline":"middle","color":"white","fontSize":27,"fontWeight":"bold"},"encoding":{"x":{"field":"r","type":"quantitative"},"y":{"field":"d","type":"quantitative"},"text":{"field":"t"}}}]},{"width":35,"height":550,"layer":[{"data":{"name":"bar"},"mark":{"type":"rect","clip":true},"encoding":{"y":{"field":"a","type":"quantitative","scale":{"domain":[-128,200.5],"nice":false,"zero":false},"axis":{"zindex":1,"orient":"right","values":[-100,-50,0,50,100,150,200],"labelExpr":"''+datum.value","grid":false,"domainColor":"black","domainWidth":1.5,"tickColor":"black","tickWidth":1.5,"tickSize":-17,"labelPadding":21,"labelFontSize":25,"labelFontWeight":"bold","labelColor":"black","title":"excess events","titleFontSize":25,"titleFontWeight":"bold","titleColor":"black","titleAngle":270,"titleX":74,"titleY":89,"titleAnchor":"middle"}},"y2":{"field":"b"},"color":{"field":"c","type":"quantitative"}}},{"data":{"name":"side"},"mark":{"type":"text","angle":270,"baseline":"middle","fontSize":26,"fontWeight":"bold","color":"black","clip":false},"encoding":{"x":{"field":"x","type":"quantitative","scale":{"domain":[0,1],"nice":false,"zero":false},"axis":null},"y":{"field":"y","type":"quantitative"},"text":{"field":"t"}}}]}]}
